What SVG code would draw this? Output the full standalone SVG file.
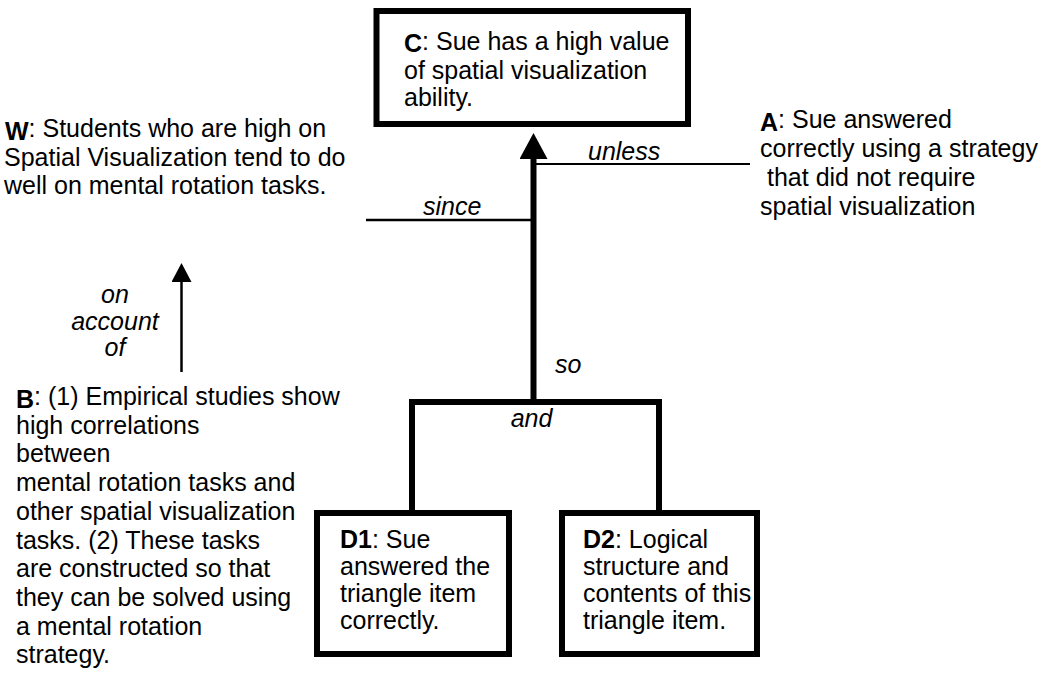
<svg xmlns="http://www.w3.org/2000/svg" width="1051" height="674" viewBox="0 0 1051 674">
<style>
.t{font-family:"Liberation Sans",Arial,Helvetica,sans-serif;font-size:25px;fill:#000}
.i{font-style:italic}
.b{font-weight:bold}
.box{fill:#fff;stroke:#000;stroke-width:6}
.thick{stroke:#000;stroke-width:6;fill:none}
.thin{stroke:#000;stroke-width:2;fill:none}
.mid{stroke:#000;stroke-width:2.5;fill:none}
</style>
<defs>
<marker id="bigHead" markerUnits="userSpaceOnUse" viewBox="0 -14 26 28" markerWidth="26" markerHeight="28" refX="0" refY="0" orient="auto">
<path d="M0,-14 L26,0 L0,14 z" fill="#000"/>
</marker>
<marker id="smallHead" markerUnits="userSpaceOnUse" viewBox="0 -10 19 20" markerWidth="19" markerHeight="20" refX="0" refY="0" orient="auto">
<path d="M0,-10 L19,0 L0,10 z" fill="#000"/>
</marker>
</defs>
<rect width="1051" height="674" fill="#fff"/>

<g id="connectors">
<path class="thick" d="M533.5,402 V159" marker-end="url(#bigHead)"/>
<path class="thick" d="M412,513 V402 H659"/>
<path class="thick" d="M659,399 V513"/>
<path class="thin" d="M536,164 H750"/>
<path class="mid" d="M366,220 H533"/>
<path class="mid" d="M181.5,372 V282" marker-end="url(#smallHead)"/>
<text class="t i" x="588" y="160">unless</text>
<text class="t i" x="423" y="215">since</text>
<text class="t i" x="555" y="373">so</text>
<text class="t i" x="531.5" y="427" text-anchor="middle">and</text>
<text class="t i" x="115" y="303" text-anchor="middle">on</text>
<text class="t i" x="115" y="330" text-anchor="middle">account</text>
<text class="t i" x="115" y="356" text-anchor="middle">of</text>
</g>

<g id="C">
<rect class="box" x="376.5" y="11" width="311.5" height="113"/>
<text class="t" x="404" y="50"><tspan class="b" dy="2">C</tspan><tspan dy="-2">: Sue has a high value</tspan></text>
<text class="t" x="404" y="79">of spatial visualization</text>
<text class="t" x="404" y="106">ability.</text>
</g>

<g id="W">
<text class="t" x="5" y="137"><tspan class="b" dy="3">W</tspan><tspan dy="-3">: Students who are high on</tspan></text>
<text class="t" x="4" y="166">Spatial Visualization tend to do</text>
<text class="t" x="4" y="194">well on mental rotation tasks.</text>
</g>

<g id="A">
<text class="t" x="760" y="128"><tspan class="b" dy="3">A</tspan><tspan dy="-3">: Sue answered</tspan></text>
<text class="t" x="760" y="157">correctly using a strategy</text>
<text class="t" x="767" y="186">that did not require</text>
<text class="t" x="760" y="215">spatial visualization</text>
</g>

<g id="B">
<text class="t" x="16" y="405"><tspan class="b" dy="3">B</tspan><tspan dy="-3">: (1) Empirical studies show</tspan></text>
<text class="t" x="16" y="433.7">high correlations</text>
<text class="t" x="16" y="462.4">between</text>
<text class="t" x="16" y="491.1">mental rotation tasks and</text>
<text class="t" x="16" y="519.8">other spatial visualization</text>
<text class="t" x="16" y="548.5">tasks. (2) These tasks</text>
<text class="t" x="16" y="577.2">are constructed so that</text>
<text class="t" x="16" y="605.9">they can be solved using</text>
<text class="t" x="16" y="634.6">a mental rotation</text>
<text class="t" x="16" y="663.3">strategy.</text>
</g>

<g id="D1">
<rect class="box" x="317" y="513" width="192" height="141"/>
<text class="t" x="340" y="548"><tspan class="b">D1</tspan>: Sue</text>
<text class="t" x="340" y="575">answered the</text>
<text class="t" x="340" y="602">triangle item</text>
<text class="t" x="340" y="629">correctly.</text>
</g>

<g id="D2">
<rect class="box" x="562" y="513" width="195" height="141"/>
<text class="t" x="583" y="548"><tspan class="b">D2</tspan>: Logical</text>
<text class="t" x="583" y="575">structure and</text>
<text class="t" x="583" y="602">contents of this</text>
<text class="t" x="583" y="629">triangle item.</text>
</g>
</svg>
